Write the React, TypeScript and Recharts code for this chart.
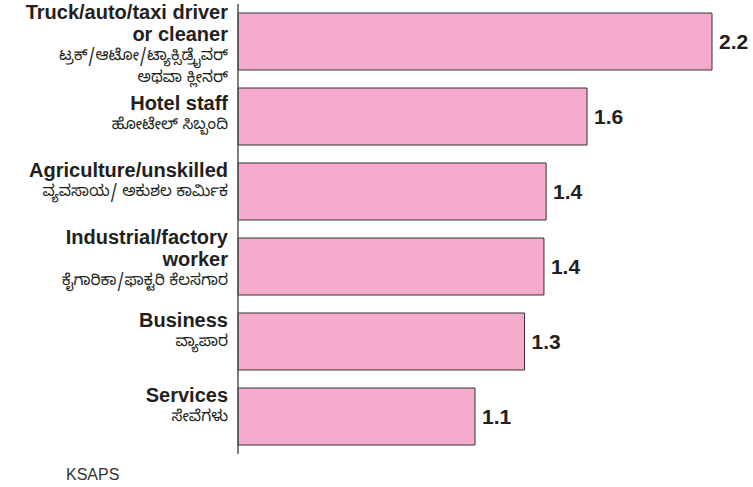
import { Bar, BarChart, LabelList, XAxis, YAxis } from "recharts";

const labelsEn = [
  ["Truck/auto/taxi driver", "or cleaner"],
  ["Hotel staff"],
  ["Agriculture/unskilled"],
  ["Industrial/factory", "worker"],
  ["Business"],
  ["Services"],
];
const labelsKn = [
  ["ಟ್ರಕ್/ಆಟೋ/ಟ್ಯಾಕ್ಸಿಡ್ರೈವರ್", "ಅಥವಾ ಕ್ಲೀನರ್"],
  ["ಹೋಟೇಲ್ ಸಿಬ್ಬಂದಿ"],
  ["ವ್ಯವಸಾಯ/ ಅಕುಶಲ ಕಾರ್ಮಿಕ"],
  ["ಕೈಗಾರಿಕಾ/ಫಾಕ್ಟರಿ ಕೆಲಸಗಾರ"],
  ["ವ್ಯಾಪಾರ"],
  ["ಸೇವೆಗಳು"],
];
const values = [2.2, 1.62, 1.43, 1.42, 1.33, 1.1];
const source = "KSAPS";

const data = labelsEn.map((lines, i) => ({
  name: lines.join(" "),
  value: values[i],
}));

const ink = "#231f20";
const latin = "'Liberation Sans', Arial, Helvetica, sans-serif";
const kannada = "'Noto Sans Kannada', 'Noto Sans', sans-serif";

// the hotel label sits a little lower in the original
const nudge: Record<number, number> = { 1: 8 };

function CategoryTick(props: any) {
  const { x, y, payload } = props;
  const i = payload.index;
  const en = labelsEn[i] || [];
  const kn = labelsKn[i] || [];
  const start = y - 14.5 - 8.5 * (en.length - 1) + (nudge[i] || 0);
  const lastEn = start + 22.5 * (en.length - 1);
  return (
    <g>
      {en.map((t, j) => (
        <text
          key={"en" + j}
          x={x}
          y={start + 22.5 * j}
          textAnchor="end"
          fill={ink}
          fontFamily={latin}
          fontWeight="bold"
          fontSize={20}
        >
          {t}
        </text>
      ))}
      {kn.map((t, j) => (
        <text
          key={"kn" + j}
          x={x}
          y={lastEn + 19 + 21.5 * j}
          textAnchor="end"
          fill={ink}
          fontFamily={kannada}
          fontSize={15.5}
        >
          {t}
        </text>
      ))}
    </g>
  );
}

export default function App() {
  return (
    <div
      style={{
        position: "absolute",
        left: 0,
        top: 0,
        width: 753,
        height: 487,
        background: "#fff",
      }}
    >
      <BarChart
        width={753}
        height={487}
        data={data}
        layout="vertical"
        margin={{ top: 4, right: 41, bottom: 33, left: 0 }}
      >
        <XAxis type="number" domain={[0, 2.2]} hide />
        <YAxis
          type="category"
          dataKey="name"
          width={238}
          axisLine={{ stroke: "#555", strokeWidth: 1.5 }}
          tickLine={false}
          tickSize={0}
          tickMargin={10}
          tick={<CategoryTick />}
          interval={0}
        />
        <Bar
          dataKey="value"
          fill="#f5abcc"
          stroke="#333"
          strokeWidth={1}
          barSize={57}
          isAnimationActive={false}
        >
          <LabelList
            dataKey="value"
            position="right"
            offset={7}
            formatter={(v: any) => Number(v).toFixed(1)}
            fill={ink}
            fontFamily={latin}
            fontWeight="bold"
            fontSize={21}
          />
        </Bar>
      </BarChart>
      <div
        style={{
          position: "absolute",
          left: 66,
          top: 467,
          fontFamily: latin,
          fontSize: 16,
          lineHeight: 1,
          color: "#333",
        }}
      >
        {source}
      </div>
    </div>
  );
}
